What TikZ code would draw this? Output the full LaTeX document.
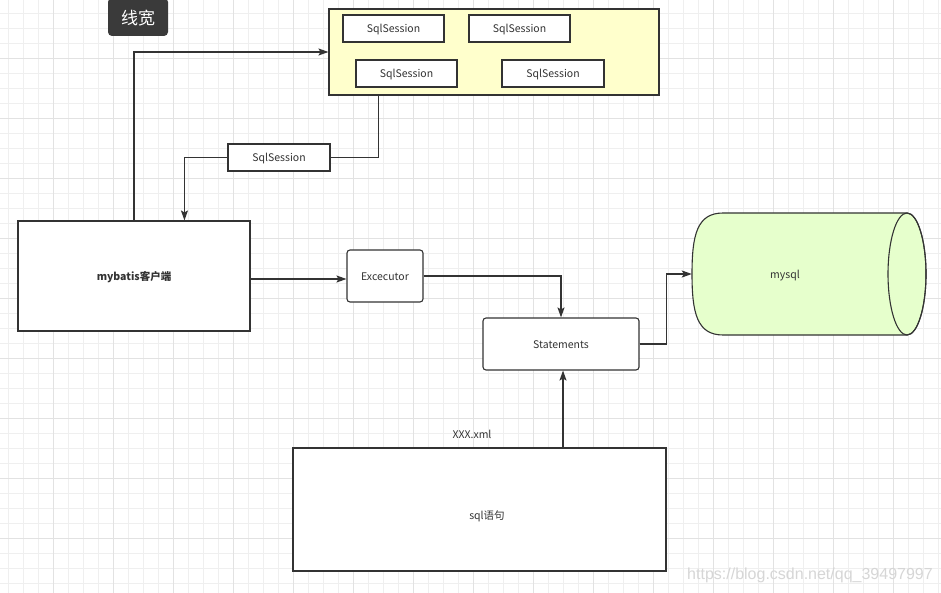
\documentclass[tikz,border=0pt]{standalone}
\usepackage{fontspec}
\setmainfont{Noto Sans CJK SC}
\newfontfamily\wmfont{Liberation Sans}
\usetikzlibrary{arrows.meta}
\definecolor{ln}{HTML}{333333}
\definecolor{yel}{HTML}{FFFFCC}
\definecolor{grn}{HTML}{E6FFCC}
\definecolor{gminor}{HTML}{EFEFEF}
\definecolor{gmajor}{HTML}{E2E2E2}
\definecolor{ttlfill}{HTML}{3A3A3A}
\definecolor{wmc}{HTML}{D6D6D6}
\begin{document}
\begin{tikzpicture}[x=1pt,y=-1pt,
  box/.style={draw=ln,line width=1.1pt,fill=white,inner sep=0pt,text=ln,
    text height=9pt,text depth=0pt,
    font=\fontsize{10.5}{12}\selectfont},
  rbox/.style={box,rounded corners=3pt},
  plain/.style={inner sep=0pt,text=ln,text height=9pt,text depth=0pt,
    font=\fontsize{10.5}{12}\selectfont},
  conn/.style={draw=ln,line width=1.2pt},
  arr/.style={conn,-{Stealth[length=10pt,width=7pt,inset=2pt]}},
  titlebox/.style={fill=ttlfill,rounded corners=4pt,text=white,inner sep=0pt,
    text height=15.6pt,text depth=0pt,
    minimum width=60pt,minimum height=38pt,font=\fontsize{17}{20}\selectfont},
  gridminor/.style={draw=gminor,line width=1pt},
  gridmajor/.style={draw=gmajor,line width=1pt}
]
\useasboundingbox (0,0) rectangle (941,593);
\clip (0,0) rectangle (941,593);
\fill[white] (0,0) rectangle (941,593);
% grid
\foreach \x in {8.7,23.7,...,941} \draw[gridminor] (\x,0) -- (\x,593);
\foreach \y in {13.7,28.7,...,593} \draw[gridminor] (0,\y) -- (941,\y);
\foreach \x in {53.7,113.7,...,941} \draw[gridmajor] (\x,0) -- (\x,593);
\foreach \y in {58.7,118.7,...,593} \draw[gridmajor] (0,\y) -- (941,\y);

% title
\node[titlebox] (ttl) at (138,17) {线宽};

% session pool
\node[box,fill=yel,minimum width=330pt,minimum height=86pt] (pool) at (494,52) {};
\node[box,minimum width=101pt,minimum height=27pt] (s1) at (393.5,28.5) {SqlSession};
\node[box,minimum width=101pt,minimum height=27pt] (s2) at (519.5,28.5) {SqlSession};
\node[box,minimum width=101pt,minimum height=27pt] (s3) at (406.5,73.5) {SqlSession};
\node[box,minimum width=102pt,minimum height=27pt] (s4) at (553,73.5) {SqlSession};
\node[box,minimum width=102pt,minimum height=27pt] (s5) at (279,157.5) {SqlSession};

% main nodes
\node[box,minimum width=232pt,minimum height=110pt,font=\fontsize{10.5}{12}\selectfont\bfseries] (client) at (134,276) {mybatis客户端};
\node[rbox,minimum width=76pt,minimum height=52pt] (exec) at (385,276) {Excecutor};
\node[rbox,minimum width=156pt,minimum height=52pt] (stmt) at (561,344) {Statements};

% mysql cylinder
\path[draw=ln,fill=grn,line width=1.1pt] (723,213) -- (907,213)
  arc[start angle=90,end angle=-90,x radius=19pt,y radius=61pt]
  -- (723,335) .. controls (697,335) and (692,313) .. (692,274)
  .. controls (692,235) and (697,213) .. (723,213) -- cycle;
\draw[draw=ln,line width=1.1pt] (907,274) ellipse [x radius=19pt,y radius=61pt];
\node[plain,minimum width=186pt,minimum height=122pt] (mysql) at (785,274) {mysql};

% sql
\node[box,minimum width=373pt,minimum height=123pt] (sql) at (479.5,509.5) {};
\node[plain] (sqltext) at (487,515) {sql语句};
\node[plain] (xml) at (472,434) {XXX.xml};

% connectors
\draw[arr] (client.north) |- (pool.west);
\draw[conn] ([xshift=50pt]pool.south west) |- (s5.east);
\draw[arr] (s5.west) -| ([xshift=167pt]client.north west);
\draw[arr] ([yshift=-3pt]client.east) -- ([yshift=-3pt]exec.west);
\draw[arr] (exec.east) -| (stmt.north);
\draw[arr] (stmt.east) -- ++(27,0) |- (mysql.west);
\draw[arr] ([xshift=2pt]stmt.south |- sql.north) -- ([xshift=2pt]stmt.south);

% watermark
\node[inner sep=0pt,text=wmc,font=\wmfont\fontsize{16}{18}\selectfont] (wm) at (810,575) {https://blog.csdn.net/qq\_39497997};
\end{tikzpicture}
\end{document}
